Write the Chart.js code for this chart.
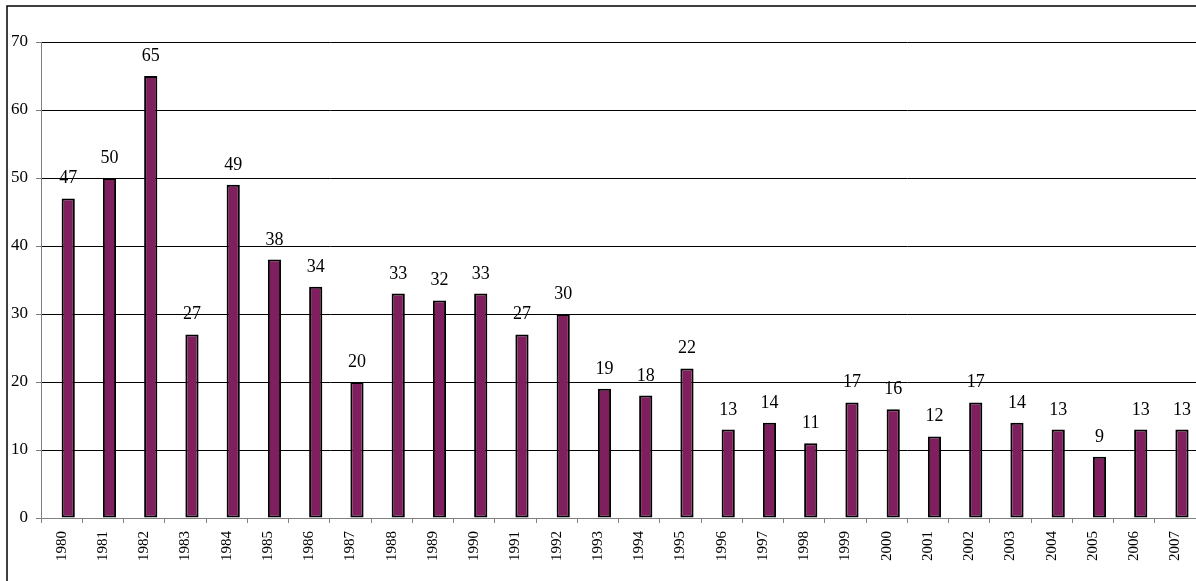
<!DOCTYPE html>
<html>
<head>
<meta charset="utf-8">
<script src="https://cdn.jsdelivr.net/npm/chart.js@4/dist/chart.umd.min.js"></script>
<style>
  body { margin: 0; background: #fff; }
  canvas { display: block; }
</style>
</head>
<body>
<canvas id="myChart" width="1196" height="581"></canvas>
<script>
// Chart data
// =======================================================
var years = ["1980", "1981", "1982", "1983", "1984", "1985", "1986", "1987", "1988", "1989",
    "1990", "1991", "1992", "1993", "1994", "1995", "1996", "1997", "1998", "1999",
    "2000", "2001", "2002", "2003", "2004", "2005", "2006", "2007"];
var counts = [47, 50, 65, 27, 49, 38, 34, 20, 33, 32, 33, 27, 30, 19, 18, 22, 13, 14, 11, 17,
    16, 12, 17, 14, 13, 9, 13, 13];
// empty first series, the visible bars sit right of the category centre
var emptySeries = years.map(function () { return null; });
var yTicks = [0, 10, 20, 30, 40, 50, 60, 70];

var serif = "'Liberation Serif', 'Times New Roman', serif";

// Frame around the picture
// =======================================================
var framePlugin = {
    id: "frame",
    beforeDraw: function (chart) {
        var ctx = chart.ctx;
        ctx.save();
        ctx.fillStyle = "#fff";
        ctx.fillRect(0, 0, chart.width, chart.height);
        ctx.strokeStyle = "#000";
        ctx.lineWidth = 1.5;
        ctx.strokeRect(7, 6, 1400, 1400);
        ctx.restore();
    }
};

// Value labels above the bars
// =======================================================
var valueLabels = {
    id: "valueLabels",
    afterDatasetsDraw: function (chart) {
        var ctx = chart.ctx;
        var meta = chart.getDatasetMeta(1);
        ctx.save();
        ctx.fillStyle = "#000";
        ctx.font = "18px " + serif;
        ctx.textAlign = "center";
        ctx.textBaseline = "alphabetic";
        meta.data.forEach(function (bar, i) {
            ctx.fillText(String(counts[i]), bar.x, bar.y - 15);
        });
        ctx.restore();
    }
};

var ctx = document.getElementById("myChart");

var myChart = new Chart(ctx, {
    type: "bar",
    data: {
        labels: years,
        datasets: [{
            label: "",
            data: emptySeries,
            backgroundColor: "rgba(0,0,0,0)"
        }, {
            label: "Count",
            data: counts,
            backgroundColor: "#7F1F5E",
            borderColor: "#000",
            borderWidth: 2,
            borderSkipped: false
        }]
    },
    options: {
        responsive: false,
        animation: false,
        events: [],
        categoryPercentage: 0.64,
        barPercentage: 1,
        layout: {
            padding: { top: 42, left: 0, right: 0, bottom: 0 }
        },
        plugins: {
            legend: { display: false },
            tooltip: { enabled: false }
        },
        scales: {
            x: {
                offset: true,
                afterFit: function (scale) {
                    scale.height = 63;
                    scale.paddingLeft = 0;
                    scale.paddingRight = 0;
                },
                grid: {
                    offset: true,
                    drawOnChartArea: false,
                    drawTicks: true,
                    tickLength: 5,
                    tickColor: "#808080"
                },
                border: { color: "#808080", width: 1 },
                ticks: {
                    minRotation: 90,
                    maxRotation: 90,
                    autoSkip: false,
                    padding: 8,
                    color: "#000",
                    font: { family: serif, size: 15 }
                }
            },
            y: {
                min: 0,
                max: 70,
                afterFit: function (scale) {
                    scale.width = 41;
                    scale.paddingTop = 0;
                    scale.paddingBottom = 0;
                },
                afterBuildTicks: function (scale) {
                    scale.ticks = yTicks.map(function (v) { return { value: v }; });
                },
                grid: {
                    color: "#000",
                    lineWidth: 1,
                    drawTicks: true,
                    tickLength: 5,
                    tickColor: "#808080"
                },
                border: { color: "#808080", width: 1 },
                ticks: {
                    padding: 8,
                    color: "#000",
                    font: { family: serif, size: 17 }
                }
            }
        }
    },
    plugins: [framePlugin, valueLabels]
});
</script>
</body>
</html>
